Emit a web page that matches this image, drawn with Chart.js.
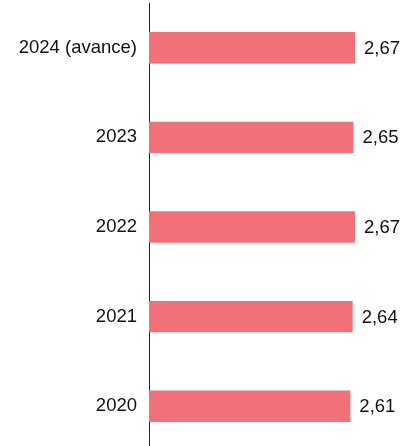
<!DOCTYPE html>
<html>
<head>
<meta charset="utf-8">
<script src="https://cdn.jsdelivr.net/npm/chart.js@4.4.0/dist/chart.umd.min.js"></script>
<style>
    html, body { margin: 0; padding: 0; background: #fff; overflow: hidden; }
    #wrap { width: 409px; height: 451px; position: relative; }
</style>
</head>
<body>
<div id="wrap"><canvas id="chart"></canvas></div>
<script>
const years = ['2024 (avance)', '2023', '2022', '2021', '2020'];
const values = [2.67, 2.65, 2.67, 2.64, 2.61];

const barColor = '#f27077';
const fontFamily = '"Liberation Sans", Arial, sans-serif';

// value labels at the end of each bar, decimal comma
const endLabels = {
    id: 'endLabels',
    afterDatasetsDraw(chart) {
        const ctx = chart.ctx;
        const meta = chart.getDatasetMeta(0);
        ctx.save();
        ctx.font = '18.5px ' + fontFamily;
        ctx.fillStyle = '#111';
        ctx.textAlign = 'left';
        ctx.textBaseline = 'middle';
        meta.data.forEach((bar, i) => {
            const txt = values[i].toFixed(2).replace('.', ',');
            ctx.fillText(txt, bar.x + 9, bar.y + 1);
        });
        ctx.restore();
    }
};

new Chart(document.getElementById('chart'), {
    type: 'bar',
    data: {
        labels: years,
        datasets: [{
            data: values,
            backgroundColor: barColor,
            borderWidth: 0,
            categoryPercentage: 1,
            barPercentage: 0.35
        }]
    },
    options: {
        indexAxis: 'y',
        responsive: true,
        maintainAspectRatio: false,
        animation: false,
        layout: { padding: { top: 3, right: 0, bottom: 0, left: 0 } },
        plugins: {
            legend: { display: false },
            tooltip: { enabled: false }
        },
        scales: {
            x: {
                min: 0,
                max: 3.37,
                display: false
            },
            y: {
                afterFit(scale) {
                    scale.width = 149;
                    scale.paddingTop = 0;   // no extra room for half label heights
                    scale.paddingBottom = 0;
                },
                grid: { display: false, drawTicks: false },
                border: { display: true, color: '#222', width: 1 },
                ticks: {
                    color: '#111',
                    padding: 12,
                    font: { family: fontFamily, size: 18.5 }
                }
            }
        }
    },
    plugins: [endLabels]
});
</script>
</body>
</html>
